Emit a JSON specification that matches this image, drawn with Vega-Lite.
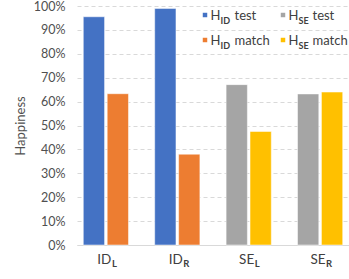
{
  "$schema": "https://vega.github.io/schema/vega-lite/v6.json",
  "width": 272,
  "height": 239,
  "autosize": {"type": "none"},
  "padding": {"left": 77, "top": 6, "right": 0, "bottom": 34},
  "background": "white",
  "config": {
    "view": {"stroke": null}, "font": "Lato", "text": {"font": "Lato", "color": "#595959"},
    "axisY": {"labelOverlap": false, "labelBound": false}
  },
  "datasets": {
    "bars": [
      {"cat": "ID_L", "type": "test", "series": "H_ID test", "value": 0.955},
      {"cat": "ID_L", "type": "match", "series": "H_ID match", "value": 0.633},
      {"cat": "ID_R", "type": "test", "series": "H_ID test", "value": 0.99},
      {"cat": "ID_R", "type": "match", "series": "H_ID match", "value": 0.38},
      {"cat": "SE_L", "type": "test", "series": "H_SE test", "value": 0.671},
      {"cat": "SE_L", "type": "match", "series": "H_SE match", "value": 0.475},
      {"cat": "SE_R", "type": "test", "series": "H_SE test", "value": 0.632},
      {"cat": "SE_R", "type": "match", "series": "H_SE match", "value": 0.64}
    ],
    "cats": [
      {"cat": "ID_L", "grp": "ID", "sub": "L"},
      {"cat": "ID_R", "grp": "ID", "sub": "R"},
      {"cat": "SE_L", "grp": "SE", "sub": "L"},
      {"cat": "SE_R", "grp": "SE", "sub": "R"}
    ],
    "legend": [
      {"grp": "ID", "type": "test", "series": "H_ID test"},
      {"grp": "SE", "type": "test", "series": "H_SE test"},
      {"grp": "ID", "type": "match", "series": "H_ID match"},
      {"grp": "SE", "type": "match", "series": "H_SE match"}
    ]
  },
  "layer": [
    {
      "layer": [
        {
          "data": {"name": "bars"},
          "mark": {"type": "bar", "stroke": "white", "strokeOpacity": 0.5, "strokeWidth": 1},
          "encoding": {
            "x": {
              "field": "cat", "type": "nominal", "sort": ["ID_L", "ID_R", "SE_L", "SE_R"],
              "scale": {"paddingInner": 0.367, "paddingOuter": 0.088},
              "axis": {"labels": false, "ticks": false, "title": null, "domainColor": "#d9d9d9", "domainWidth": 1, "grid": false}
            },
            "xOffset": {"field": "type", "type": "nominal", "sort": ["test", "match"], "scale": {"paddingInner": 0.11, "paddingOuter": 0}},
            "y": {
              "field": "value", "type": "quantitative",
              "scale": {"domain": [0, 1]},
              "axis": {
                "format": ".0%", "values": [0, 0.1, 0.2, 0.3, 0.4, 0.5, 0.6, 0.7, 0.8, 0.9, 1],
                "labelOverlap": false, "labelBound": false,
                "title": "Happiness", "grid": true, "gridDash": [4, 3], "gridColor": "#d9d9d9",
                "domain": false, "ticks": false, "labelPadding": 12, "labelFontSize": 12.5,
                "labelColor": "#505050", "labelFont": "Lato", "titleFont": "Lato", "titleFontSize": 13,
                "titleColor": "#505050", "titleFontWeight": "normal", "titlePadding": 6
              }
            },
            "color": {
              "field": "series", "type": "nominal",
              "scale": {"domain": ["H_ID test", "H_ID match", "H_SE test", "H_SE match"], "range": ["#4472C4", "#ED7D31", "#A5A5A5", "#FFC000"]},
              "legend": null
            }
          }
        },
        {
          "data": {"name": "cats"},
          "mark": {"type": "text", "align": "right", "baseline": "alphabetic", "dx": 5.5, "dy": 19, "fontSize": 13.5, "color": "#404040"},
          "encoding": {
            "x": {"field": "cat", "type": "nominal", "sort": ["ID_L", "ID_R", "SE_L", "SE_R"]},
            "y": {
              "datum": 0, "type": "quantitative",
              "axis": {
                "format": ".0%", "values": [0, 0.1, 0.2, 0.3, 0.4, 0.5, 0.6, 0.7, 0.8, 0.9, 1],
                "labelOverlap": false, "labelBound": false,
                "title": "Happiness", "grid": true, "gridDash": [4, 3], "gridColor": "#d9d9d9",
                "domain": false, "ticks": false, "labelPadding": 12, "labelFontSize": 12.5,
                "labelColor": "#505050", "labelFont": "Lato", "titleFont": "Lato", "titleFontSize": 13,
                "titleColor": "#505050", "titleFontWeight": "normal", "titlePadding": 6
              }
            },
            "text": {"field": "grp"}
          }
        },
        {
          "data": {"name": "cats"},
          "mark": {"type": "text", "align": "left", "baseline": "alphabetic", "dx": 6, "dy": 22, "fontSize": 9.5, "fontWeight": "bold", "color": "#404040"},
          "encoding": {
            "x": {"field": "cat", "type": "nominal", "sort": ["ID_L", "ID_R", "SE_L", "SE_R"]},
            "y": {
              "datum": 0, "type": "quantitative",
              "axis": {
                "format": ".0%", "values": [0, 0.1, 0.2, 0.3, 0.4, 0.5, 0.6, 0.7, 0.8, 0.9, 1],
                "labelOverlap": false, "labelBound": false,
                "title": "Happiness", "grid": true, "gridDash": [4, 3], "gridColor": "#d9d9d9",
                "domain": false, "ticks": false, "labelPadding": 12, "labelFontSize": 12.5,
                "labelColor": "#505050", "labelFont": "Lato", "titleFont": "Lato", "titleFontSize": 13,
                "titleColor": "#505050", "titleFontWeight": "normal", "titlePadding": 6
              }
            },
            "text": {"field": "sub"}
          }
        }
      ]
    },
    {
      "data": {"name": "legend"},
      "encoding": {
        "x": {"field": "grp", "type": "nominal", "scale": {"type": "point", "domain": ["ID", "SE"], "range": [128, 206], "padding": 0}, "axis": null},
        "y": {"field": "type", "type": "nominal", "scale": {"type": "point", "domain": ["test", "match"], "range": [9, 34], "padding": 0}, "axis": null}
      },
      "layer": [
        {"mark": {"type": "square", "size": 20, "filled": true, "opacity": 1}, "encoding": {"color": {"field": "series", "type": "nominal", "legend": null}}},
        {"mark": {"type": "text", "text": "H", "align": "left", "baseline": "middle", "dx": 5.5, "dy": 1, "fontSize": 13, "color": "#404040"}},
        {"mark": {"type": "text", "align": "left", "baseline": "middle", "dx": 15.5, "dy": 6, "fontSize": 9, "fontWeight": "bold", "color": "#404040"}, "encoding": {"text": {"field": "grp"}}},
        {"mark": {"type": "text", "align": "left", "baseline": "middle", "dx": 29.5, "dy": 1, "fontSize": 13, "color": "#404040"}, "encoding": {"text": {"field": "type"}}}
      ]
    }
  ],
  "resolve": {"scale": {"x": "independent", "y": "independent"}}
}
